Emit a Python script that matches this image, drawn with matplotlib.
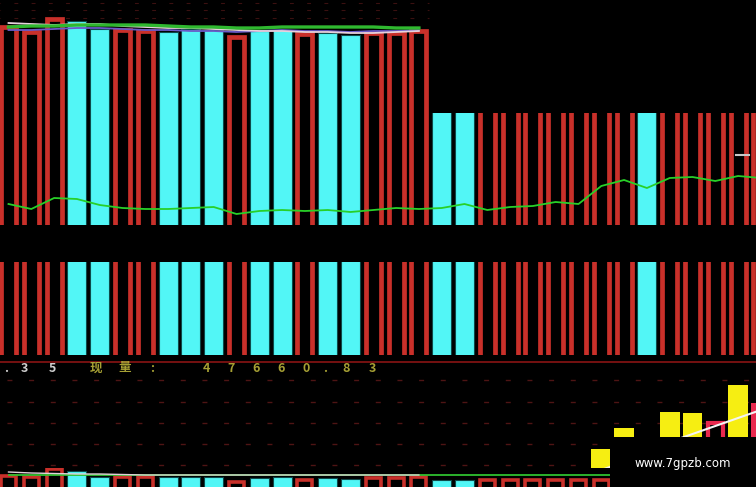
import matplotlib
matplotlib.use("Agg")
import matplotlib.pyplot as plt
from matplotlib.patches import Rectangle
import numpy as np

W, H = 756, 487
RED = "#C9302A"
CYAN = "#52F6F6"
CYAN_EDGE = "#0E4A4A"
YELLOW = "#F6EE12"
PINK = "#E8284E"

# ---------------- data ----------------
# R = hollow red candle, C = solid cyan candle
candle_kind = list("RRRCCRRCCCRCCRCCRRRCCRRRRRRRCRRRRR")

# main panel: candle tops (height above panel floor); right part runs off the cut
main_top = [198, 193, 206, 204, 196, 195, 194, 193, 196, 195, 188, 194, 195, 191, 192, 190, 192, 192, 194,
            240, 240, 240, 240, 240, 240, 240, 240, 240, 240, 240, 240, 240, 240, 240]
main_ma_low = [21, 16, 27, 26, 20, 17, 16, 16, 17, 18, 11, 14, 15, 14, 15, 13, 15, 17, 16,
               17, 21, 15, 18, 19, 23, 21, 39, 45, 37, 47, 48, 44, 49, 47]
# moving averages near the top of the left part
ma_green = [198, 199, 199, 200, 200, 200, 200, 199, 198, 198, 197, 197, 198, 198, 198, 198, 198, 197, 197]
ma_white = [202, 201, 200, 201, 201, 199, 198, 197, 197, 196, 195, 194, 194, 193, 193, 192, 192, 193, 194]
ma_purple = [195, 195, 196, 197, 197, 196, 195, 195, 194, 194, 193, 194, 195, 194, 194, 193, 194, 194, 195]

# volume panel
vol_height = [0] * 26 + [21, 42, 25, 58, 57, 47, 85, 67]
vol_kind = ["N"] * 26 + ["Y", "Y", "Y", "Y", "Y", "H", "Y", "P"]
vol_ma_start = 25
vol_ma = [-8, 0, 8, 18, 28, 36, 44, 52, 60]

# bottom strip (compressed copy of the candles)
strip_top = [11, 10, 18, 16, 10, 10, 10, 10, 10, 10, 5, 9, 10, 7, 9, 8, 9, 9, 10,
             7, 7, 7, 7, 7, 7, 7, 7, 7, 7, 7, 7, 7, 7, 7]
strip_green = [12.5] * 34
strip_white = [15, 14, 13.5, 13, 13, 12.5, 12, 12, 12, 12, 12, 12, 12, 12, 12, 12, 12, 12, 12]

label_prev = ".35"
label_name = "现量:"
label_value = "47660.83"
watermark = "www.7gpzb.com"

# ---------------- figure ----------------
fig = plt.figure(figsize=(W / 100, H / 100), dpi=100, facecolor="black")
n = len(candle_kind)
idx = np.arange(n)
X0, STEP = 8.5, 22.8
xlim = ((0 - X0) / STEP, (W - X0) / STEP)


def px_axes(y0, y1):
    ax = fig.add_axes([0, 1 - y1 / H, 1, (y1 - y0) / H])
    ax.set_facecolor("black")
    ax.set_xticks([])
    ax.set_yticks([])
    for s in ax.spines.values():
        s.set_visible(False)
    ax.set_xlim(*xlim)
    return ax


def draw_candles(ax, tops, bottom, lw=3.4):
    red_i = [i for i in idx if candle_kind[i] == "R"]
    cyan_i = [i for i in idx if candle_kind[i] == "C"]
    ax.bar(red_i, [tops[i] - bottom for i in red_i], bottom=bottom, width=0.66,
           facecolor="none", edgecolor=RED, linewidth=lw, zorder=2)
    ax.bar(cyan_i, [tops[i] - bottom for i in cyan_i], bottom=bottom, width=0.84,
           color=CYAN, edgecolor=CYAN_EDGE, linewidth=0.8, zorder=2)


# ---- main panel (0 -> 225 px)
ax1 = px_axes(0, 225)
ax1.set_ylim(0, 225)
for yv in (222, 215, 207):
    ax1.hlines(yv, xlim[0], 18.45, colors="#3a1010", linewidth=0.8,
               linestyles=(3, (3.5, 12)), zorder=1)
draw_candles(ax1, main_top, -10)
ax1.add_patch(Rectangle((18.49, 112), 20, 200, facecolor="black", edgecolor="none", zorder=3))
left = idx[:len(ma_green)]
ax1.plot(left, ma_purple, color="#6a5ac8", lw=1.3, zorder=4)
ax1.plot(left, ma_white, color="#e6d2dc", lw=1.3, zorder=4)
ax1.plot(left, ma_green, color="#2fb82f", lw=2.4, zorder=4)
ax1.plot(idx, main_ma_low, color="#28d028", lw=1.3, zorder=4)
ax1.plot([31.9, 32.5], [70, 70], color="#c8c8c8", lw=1.5, zorder=4)

# ---- second candle band (262 -> 355 px)
ax2 = px_axes(262, 355)
ax2.set_ylim(0, 1)
draw_candles(ax2, [2] * n, -1)

# ---- volume panel (356 -> 470 px)
ax3 = px_axes(356, 470)
ax3.set_ylim(0, 114)
ax3.axhline(108, color="#8a1414", lw=1.2)
for yv in (90, 68, 47, 26, 5):
    ax3.axhline(yv, color="#4e1414", lw=1.0, linestyle=(10.6, (3.6, 12)))
yi = [i for i in idx if vol_kind[i] == "Y"]
ax3.bar(yi, [vol_height[i] for i in yi], width=0.86, color=YELLOW, zorder=2)
hi = [i for i in idx if vol_kind[i] == "H"]
ax3.bar(hi, [vol_height[i] + 10 for i in hi], bottom=-10, width=0.66,
        facecolor="none", edgecolor=PINK, linewidth=3.0, zorder=2)
pi = [i for i in idx if vol_kind[i] == "P"]
ax3.bar(pi, [vol_height[i] for i in pi], width=0.86, color=PINK, zorder=2)
ax3.plot(np.arange(vol_ma_start, vol_ma_start + len(vol_ma)), vol_ma,
         color="#f4f4f4", lw=1.5, zorder=3)

# ---- bottom strip (468 -> 487 px)
ax4 = px_axes(468, 487)
ax4.set_ylim(0, 19)
draw_candles(ax4, strip_top, -5, lw=2.6)
ax4.plot(idx, strip_green, color="#2fc02f", lw=1.3, zorder=4)
ax4.plot(idx[:len(strip_white)], strip_white, color="#e0d0d8", lw=1.0, zorder=4)

# ---- text line of the volume panel
def ftxt(x, y, s, color, **kw):
    fig.text(x / W, 1 - y / H, s, color=color, ha="center", va="center",
             fontsize=9, fontweight="bold",
             family=["Noto Sans CJK SC", "DejaVu Sans"], zorder=6, **kw)

for ch, x in zip(label_prev, (6, 24, 52)):
    ftxt(x, 368, ch, "#cfcfcf")
for ch, x in zip(label_name, (96, 125, 152)):
    ftxt(x, 368, ch, "#a6a034")
for ch, x in zip(label_value, (206, 231, 256, 281, 306, 325, 346, 372)):
    ftxt(x, 368, ch, "#a6a034")

# ---- watermark box
fig.add_artist(Rectangle((610 / W, 0), 146 / W, 50 / H, transform=fig.transFigure,
                         facecolor="black", edgecolor="none", zorder=5))
fig.text(683 / W, 1 - 463 / H, watermark, color="white", ha="center", va="center",
         fontsize=8.5, zorder=6)

fig.savefig("out.png", dpi=100, facecolor="black")
